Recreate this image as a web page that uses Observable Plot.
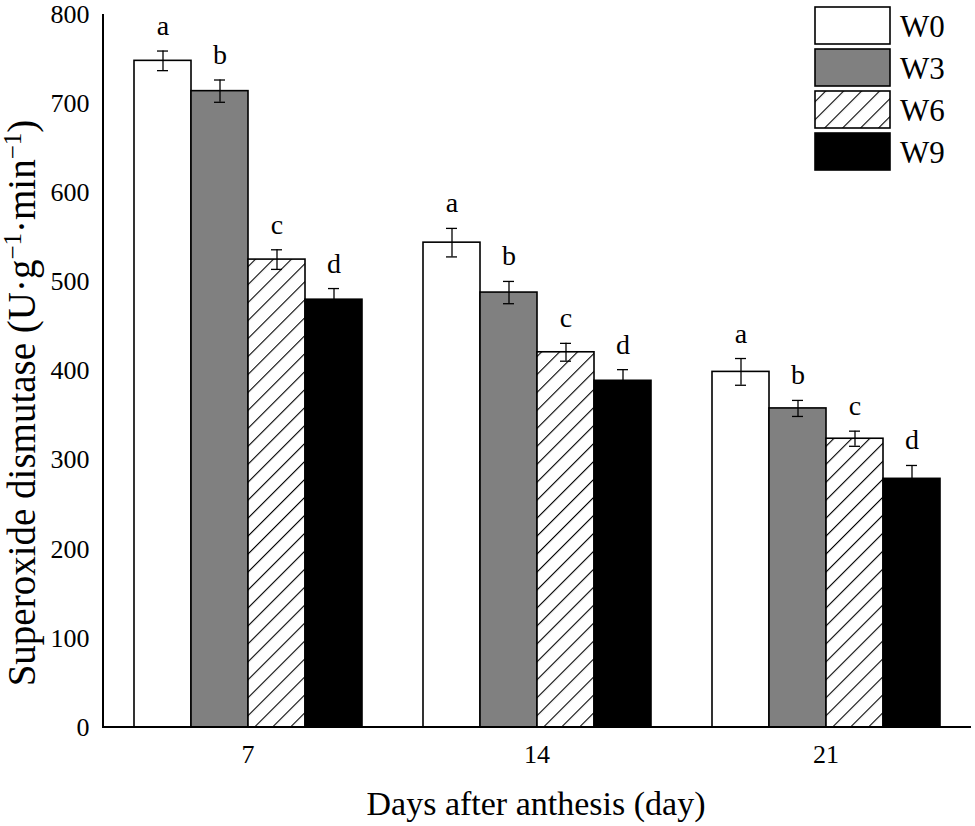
<!DOCTYPE html>
<html><head><meta charset="utf-8">
<script src="https://cdn.jsdelivr.net/npm/d3@7"></script>
<script src="https://cdn.jsdelivr.net/npm/@observablehq/plot@0.6"></script>
<style>body{margin:0;background:#fff}</style>
</head><body><div id="chart"></div>
<script>
const days = ["7", "14", "21"];
const treatments = ["W0", "W3", "W6", "W9"];
const w0Mean = [748, 544, 399];
const w3Mean = [714, 488, 358];
const w6Mean = [525, 421, 324];
const w9Mean = [480, 389, 279];
const w0Err = [11, 16, 15];
const w3Err = [12.5, 12.5, 9];
const w6Err = [11, 10, 8.5];
const w9Err = [12.5, 12.5, 15];
const w0Letter = ["a", "a", "a"];
const w3Letter = ["b", "b", "b"];
const w6Letter = ["c", "c", "c"];
const w9Letter = ["d", "d", "d"];
const yTicks = [0, 100, 200, 300, 400, 500, 600, 700, 800];
const fills = ["white", "#808080", "url(#hatch)", "black"];

const means = [w0Mean, w3Mean, w6Mean, w9Mean];
const errs = [w0Err, w3Err, w6Err, w9Err];
const letters = [w0Letter, w3Letter, w6Letter, w9Letter];
const rows = days.flatMap((d, i) => treatments.map((t, j) => ({
  day: d, t, mean: means[j][i], se: errs[j][i], letter: letters[j][i]
})));

const font = "'Liberation Serif', 'Times New Roman', serif";
const chart = Plot.plot({
  width: 975, height: 826,
  marginLeft: 103, marginRight: 4, marginTop: 14, marginBottom: 99,
  style: {fontFamily: font, fontSize: "26px", background: "white", color: "black"},
  fx: {domain: days, paddingInner: 0.2, paddingOuter: 0.1, label: null},
  x: {domain: treatments, padding: 0, axis: null},
  y: {domain: [0, 800], label: null},
  color: {domain: treatments, range: fills},
  marks: [
    Plot.axisY({ticks: yTicks, tickSize: 0, tickPadding: 43, fontSize: 26, label: null, fill: "black"}),
    Plot.axisFx({anchor: "bottom", tickSize: 0, tickPadding: 17, fontSize: 26, label: null, fill: "black"}),
    Plot.barY(rows, {fx: "day", x: "t", y: "mean", fill: "t", stroke: "black", strokeWidth: 1.6}),
    Plot.ruleX(rows, {fx: "day", x: "t", y1: d => d.mean - d.se, y2: d => d.mean + d.se, stroke: "black", strokeWidth: 1.3}),
    Plot.tickY(rows, {fx: "day", x: "t", y: d => d.mean - d.se, stroke: "black", strokeWidth: 1.3, insetLeft: 23, insetRight: 23}),
    Plot.tickY(rows, {fx: "day", x: "t", y: d => d.mean + d.se, stroke: "black", strokeWidth: 1.3, insetLeft: 23, insetRight: 23}),
    Plot.text(rows, {fx: "day", x: "t", y: d => d.mean + d.se, text: "letter", lineAnchor: "bottom", dy: -16, fontSize: 28, fill: "black"})
  ]
});

const svg = d3.select(chart);
const defs = svg.insert("defs", ":first-child");
const pat = defs.append("pattern").attr("id", "hatch").attr("patternUnits", "userSpaceOnUse")
  .attr("width", 12.7).attr("height", 12.7).attr("patternTransform", "rotate(45)");
pat.append("rect").attr("width", 12.7).attr("height", 12.7).attr("fill", "white");
pat.append("line").attr("x1", 0).attr("y1", 0).attr("x2", 0).attr("y2", 12.7).attr("stroke", "black").attr("stroke-width", 2.2);

const ys = chart.scale("y");
const y = d3.scaleLinear(ys.domain, ys.range);
const left = 103, right = 975 - 4;
svg.append("line").attr("x1", left).attr("x2", left).attr("y1", y(800)).attr("y2", y(0) + 1)
  .attr("stroke", "black").attr("stroke-width", 2);
svg.append("line").attr("x1", left - 1).attr("x2", right).attr("y1", y(0)).attr("y2", y(0))
  .attr("stroke", "black").attr("stroke-width", 2);

// axis titles
svg.append("text").attr("x", 536).attr("y", 815).attr("text-anchor", "middle")
  .attr("font-family", font).attr("font-size", 34).attr("fill", "black")
  .text("Days after anthesis (day)");
const yt = svg.append("text").attr("transform", "translate(35,403) rotate(-90)").attr("text-anchor", "middle")
  .attr("font-family", font).attr("font-size", 39).attr("fill", "black");
yt.append("tspan").text("Superoxide dismutase (U·g");
yt.append("tspan").attr("font-size", 25).attr("dy", -14).text("−1");
yt.append("tspan").attr("dy", 14).text("·min");
yt.append("tspan").attr("font-size", 25).attr("dy", -14).text("−1");
yt.append("tspan").attr("dy", 14).text(")");

// legend
const cs = chart.scale("color");
const lg = svg.append("g").attr("text-anchor", "start");
treatments.forEach((t, i) => {
  const top = 7 + i * 42;
  lg.append("rect").attr("x", 815).attr("y", top).attr("width", 75).attr("height", 37)
    .attr("fill", cs.range[cs.domain.indexOf(t)]).attr("stroke", "black").attr("stroke-width", 1.6);
  lg.append("text").attr("x", 900).attr("y", top + 30).attr("text-anchor", "start").attr("font-family", font)
    .attr("font-size", 31).attr("fill", "black").text(t);
});

document.getElementById("chart").appendChild(chart);
</script>
</body></html>
